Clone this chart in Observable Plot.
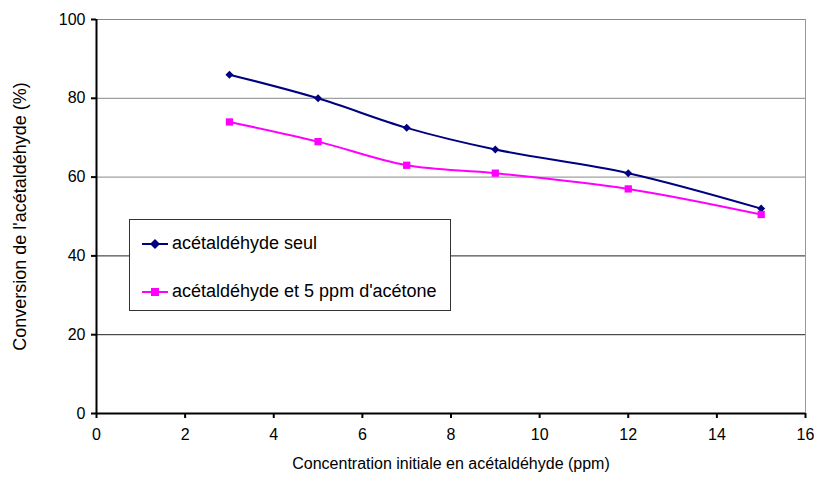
<!DOCTYPE html>
<html><head><meta charset="utf-8">
<script src="https://cdn.jsdelivr.net/npm/d3@7"></script>
<script src="https://cdn.jsdelivr.net/npm/@observablehq/plot@0.6"></script>
<style>
body{margin:0;background:#fff;font-family:"Liberation Sans",Arial,sans-serif;}
#wrap{position:relative;width:814px;height:486px;}
#legend{position:absolute;left:129px;top:219px;width:320px;height:90px;border:1px solid #333;background:#fff;font-size:18px;}
.item{position:absolute;left:12px;display:flex;align-items:center;}
.item span{margin-left:4px;color:#000;}
</style></head>
<body><div id="wrap"><div id="legend"></div></div>
<script>
const xConc = [3, 5, 7, 9, 12, 15];
const seul = [86, 80, 72.5, 67, 61, 52];
const acetone = [74, 69, 63, 61, 57, 50.5];
const seriesNames = ["acétaldéhyde seul", "acétaldéhyde et 5 ppm d'acétone"];
const seriesColors = ["#000080", "#FF00FF"];
const xTicks = [0, 2, 4, 6, 8, 10, 12, 14, 16];
const yTicks = [0, 20, 40, 60, 80, 100];
const xLabel = "Concentration initiale en acétaldéhyde (ppm)";
const yLabel = "Conversion de l'acétaldéhyde (%)";

const d1 = xConc.map((x, i) => ({x, y: seul[i]}));
const d2 = xConc.map((x, i) => ({x, y: acetone[i]}));

const chart = Plot.plot({
  width: 814, height: 486,
  marginLeft: 96, marginRight: 9, marginTop: 19, marginBottom: 73,
  style: {fontFamily: "Liberation Sans, Arial, sans-serif", fontSize: "16px", color: "#000", background: "#fff", overflow: "visible"},
  x: {domain: [0, 16]},
  y: {domain: [0, 100]},
  marks: [
    Plot.ruleY([20, 40, 60, 80, 100], {stroke: d => d >= 60 ? "#888" : "#222", strokeWidth: 1}),
    Plot.ruleX([16], {y1: 0, y2: 100, stroke: "#999"}),
    Plot.axisX({ticks: xTicks, tickSize: 5, tickPadding: 10, label: null, strokeWidth: 2, fontSize: 16}),
    Plot.axisY({ticks: yTicks, tickSize: 5, tickPadding: 6, label: null, strokeWidth: 2, fontSize: 16}),
    Plot.ruleY([0], {stroke: "#000", strokeWidth: 2}),
    Plot.ruleX([0], {y1: 0, y2: 100, stroke: "#000", strokeWidth: 2}),
    Plot.line(d1, {x: "x", y: "y", stroke: seriesColors[0], strokeWidth: 2, curve: "catmull-rom"}),
    Plot.line(d2, {x: "x", y: "y", stroke: seriesColors[1], strokeWidth: 2, curve: "catmull-rom"}),
    Plot.dot(d1, {x: "x", y: "y", symbol: "square", r: 3.2, rotate: 45, fill: seriesColors[0], stroke: null}),
    Plot.dot(d2, {x: "x", y: "y", symbol: "square", r: 4.1, fill: seriesColors[1], stroke: null}),
    Plot.text([xLabel], {frameAnchor: "bottom", dy: 55, fontSize: 16, text: d => d}),
    Plot.text([yLabel], {frameAnchor: "left", textAnchor: "middle", dx: -76, rotate: -90, fontSize: 18, text: d => d})
  ]
});
document.getElementById("wrap").prepend(chart);

const legend = document.getElementById("legend");
const sym = [
  '<polygon points="13,1 18,6 13,11 8,6" fill="#000080"/>',
  '<rect x="9" y="2" width="8" height="8" fill="#FF00FF"/>'
];
seriesNames.forEach((name, i) => {
  const div = document.createElement("div");
  div.className = "item";
  div.style.top = (i === 0 ? 13 : 61) + "px";
  div.innerHTML = `<svg width="26" height="12"><line x1="0" y1="6" x2="26" y2="6" stroke="${seriesColors[i]}" stroke-width="2"/>${sym[i]}</svg><span>${name}</span>`;
  legend.appendChild(div);
});
</script></body></html>
